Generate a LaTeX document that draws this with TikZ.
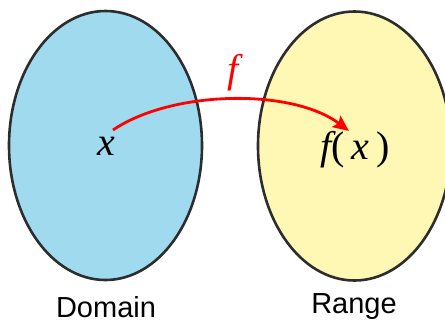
\documentclass[tikz,border=0pt]{standalone}
\usepackage{fontspec}
\setmainfont{Liberation Serif}
\newfontfamily\labelfont{Liberation Sans}
\usetikzlibrary{positioning,arrows.meta,shapes.geometric}

\definecolor{domfill}{RGB}{160,218,238}
\definecolor{rngfill}{RGB}{255,247,180}
\definecolor{rimgray}{RGB}{45,45,45}

\begin{document}
\begin{tikzpicture}[
  x=1pt,y=-1pt,
  >={Stealth[length=16pt,width=14pt,inset=3pt]},
  setnode/.style={draw=rimgray,line width=2.6pt,ellipse,inner sep=0pt,
                  minimum width=193pt,minimum height=269pt},
  elem/.style={inner sep=0pt,font=\fontsize{40}{44}\selectfont\itshape},
  setname/.style={inner sep=0pt,font=\fontsize{29}{32}\selectfont\labelfont},
  mapto/.style={->,red,line width=2.8pt}]

\useasboundingbox (0,0) rectangle (445,322);

% --- the two sets ---
\node[setnode,fill=domfill] (dom) at (105.5,145.5) {};
\node[setnode,fill=rngfill] (rng) at (354.5,146) {};

\node[setname] (domname) at (106,307) {Domain};
\node[setname] (rngname) at (354,307) {Range};

% --- elements and the map ---
\node[elem] (x) at (106,146) {x};
\node[elem] (fx) at (355,150) {f{\upshape(}\,x\,{\upshape)}};
\node[elem,red] (f) at (233,73) {f};

\coordinate (xs) at (113,130);
\coordinate (fxe) at (349,131);
\draw[mapto] (xs) .. controls (172,90) and (292,88) .. (fxe);

\end{tikzpicture}
\end{document}
